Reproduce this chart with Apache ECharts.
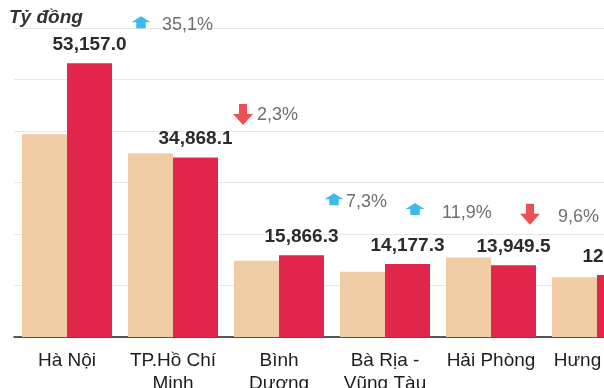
<!DOCTYPE html>
<html>
<head>
<meta charset="utf-8">
<script src="https://cdn.jsdelivr.net/npm/echarts@6/dist/echarts.min.js"></script>
<style>
html,body{margin:0;padding:0;background:#fff;}
#chart{width:604px;height:388px;}
</style>
</head>
<body>
<div id="chart"></div>
<script>
// ---- data ----
var categories = ['Hà Nội', 'TP.Hồ Chí\nMinh', 'Bình\nDương', 'Bà Rịa -\nVũng Tàu', 'Hải Phòng', 'Hưng Yên'];
var prevYear = [39350, 35690, 14790, 12670, 15430, 11590];
var thisYear = [53157.0, 34868.1, 15866.3, 14177.3, 13949.5, 12060];
var pctChange = [35.1, -2.3, 7.3, 11.9, -9.6, null];
var yTicks = [0, 10000, 20000, 30000, 40000, 50000, 60000];

// ---- layout (annotation offsets, px relative to top of red bar at category centre) ----
var arrowOffsets = [[74, -41], [70, -43], [55, -56], [30, -55], [39, -51], [0, 0]];
var pctTextOffsets = [[95, -38], [84, -42], [67, -53], [57, -51], [67, -48], [0, 0]];

var UP = 'path://M10,0 L20,6 L15,6 L15,12 L5,12 L5,6 L0,6 Z';
var DOWN = 'path://M6,0 L14,0 L14,10 L20,10 L10,21 L0,10 L6,10 Z';
var BLUE = '#0ea8e6', ARED = '#e8232b';

function fmt(v){
  return v.toLocaleString('en-US', {minimumFractionDigits:1, maximumFractionDigits:1});
}
function fmtPct(p){
  return Math.abs(p).toFixed(1).replace('.', ',') + '%';
}

var arrowData = [], pctData = [];
pctChange.forEach(function(p, i){
  if (p == null) return;
  var up = p > 0;
  arrowData.push({
    value: [i, thisYear[i]],
    symbol: up ? UP : DOWN,
    symbolSize: up ? [19, 12] : [20, 21],
    symbolOffset: arrowOffsets[i],
    itemStyle: {color: up ? BLUE : ARED}
  });
  pctData.push({
    value: [i, thisYear[i]],
    name: fmtPct(p),
    label: {offset: pctTextOffsets[i]}
  });
});

var chart = echarts.init(document.getElementById('chart'), null, {renderer:'canvas'});
chart.setOption({
  backgroundColor: '#ffffff',
  animation: false,
  title: {
    text: 'Tỷ đồng', left: 4, top: 3,
    textStyle: {fontFamily: 'Liberation Sans, Arial, sans-serif', fontStyle: 'italic', fontWeight: 'bold', fontSize: 19, color: '#333'}
  },
  grid: {left: 14, top: 28, width: 636, height: 309, containLabel: false, outerBoundsMode: 'none'},
  xAxis: {
    type: 'category',
    data: categories,
    axisTick: {show: false},
    axisLine: {lineStyle: {color: '#222', width: 1.5}},
    axisLabel: {
      interval: 0, margin: 12, color: '#1e1e1e', fontSize: 19, lineHeight: 23,
      fontFamily: 'Liberation Sans, Arial, sans-serif'
    }
  },
  yAxis: {
    type: 'value',
    min: yTicks[0], max: yTicks[yTicks.length-1], interval: yTicks[1]-yTicks[0],
    axisLabel: {show: false},
    axisLine: {show: false},
    axisTick: {show: false},
    splitLine: {lineStyle: {color: '#e6e6e6', width: 1}}
  },
  series: [
    {
      type: 'bar', data: prevYear, barWidth: 45, barGap: '0%',
      itemStyle: {color: '#efcca4'}
    },
    {
      type: 'bar', data: thisYear, barWidth: 45,
      itemStyle: {color: '#e2254b'},
      label: {
        show: true, position: 'top', distance: 9,
        fontFamily: 'Liberation Sans, Arial, sans-serif',
        fontWeight: 'bold', fontSize: 19, color: '#2b2b2b',
        formatter: function(p){ return fmt(p.value); }
      }
    },
    {
      type: 'scatter', data: arrowData, z: 5, silent: true
    },
    {
      type: 'scatter', data: pctData, z: 5, silent: true,
      symbolSize: 1, itemStyle: {color: 'rgba(0,0,0,0)'},
      label: {
        show: true, position: 'inside', align: 'left', verticalAlign: 'middle',
        fontFamily: 'Liberation Sans, Arial, sans-serif',
        fontSize: 18, color: '#4a4a4a',
        formatter: function(p){ return p.name; }
      }
    }
  ]
});
</script>
</body>
</html>
